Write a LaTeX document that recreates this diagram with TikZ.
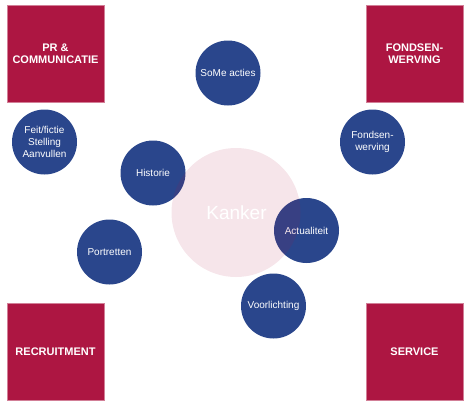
\documentclass[tikz,border=0pt]{standalone}
\usepackage{fontspec}
\setmainfont{Liberation Sans}
\usepackage{tikz}
\definecolor{crimson}{HTML}{AD1642}
\definecolor{navyblue}{HTML}{2A468C}

\begin{document}
\begin{tikzpicture}[x=1pt, y=-1pt, theme/.style = {rectangle, fill=crimson, draw=crimson!55!white, line width=0.6pt, minimum size=97pt, inner sep=0pt, text=white, align=center, font=\bfseries\fontsize{11}{12.5}\selectfont}, topic/.style = {circle, fill=navyblue, minimum size=65pt, inner sep=0pt, text=white, align=center, font=\fontsize{10}{12}\selectfont}, core/.style = {circle, fill=crimson, fill opacity=0.11, text opacity=1, minimum size=129pt, inner sep=0pt}]

\useasboundingbox (0,0) rectangle (473,408);

% the four fields in the corners
\node[theme] (pr) at (55.5,53.5) {PR \&\\COMMUNICATIE};
\node[theme] (fonds) at (414.5,53.5) {FONDSEN-\\WERVING};
\node[theme] (recruit) at (55.5,352) {RECRUITMENT};
\node[theme] (service) at (414.5,352) {SERVICE};

% the topics
\node[topic] (some) at (228,73) {SoMe acties};
\node[topic] (feit) at (44.5,142) {Feit/fictie\\Stelling\\Aanvullen};
\node[topic] (fondsw) at (372.5,142) {Fondsen-\\werving};
\node[topic] (hist) at (153,173) {Historie};
\node[topic] (portret) at (109.5,252) {Portretten};
\node[topic] (actueel) at (306.5,230.5) {Actualiteit};
\node[topic] (voorl) at (273.5,306) {Voorlichting};

% centre
\node[core] (kanker) at (236,212.5) {};
\node[text=white, font=\fontsize{19}{22}\selectfont] (kankerlabel) at (236.5,213) {Kanker};
%\node[text=white] at (kanker) {Kanker};
\end{tikzpicture}
\end{document}
